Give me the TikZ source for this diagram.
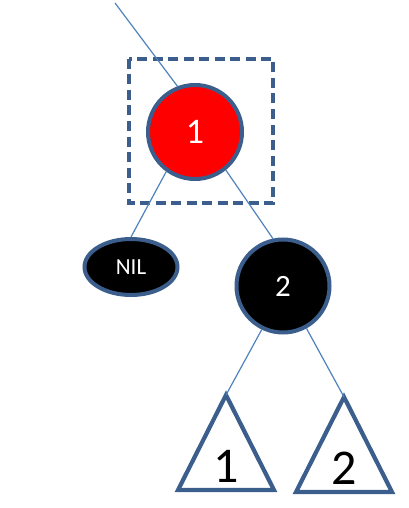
\documentclass[tikz,border=0pt]{standalone}
\usepackage{fontspec}
\setmainfont{Carlito}
\usepackage{xcolor}
\usepackage{tikz}
\usetikzlibrary{shapes.geometric}
\definecolor{edgec}{HTML}{3B5E8C}
\definecolor{linkc}{HTML}{4F81BD}
\definecolor{rednode}{HTML}{FF0000}
\tikzset{
  link/.style={linkc,line width=1.2pt},
  rbnode/.style={circle,draw=edgec,line width=4pt,inner sep=0pt,text=white},
  nilnode/.style={ellipse,draw=edgec,fill=black,line width=4pt,inner sep=0pt,text=white,
    minimum width=93pt,minimum height=56pt,font=\fontsize{23}{23}\selectfont},
  focus/.style={draw=edgec,line width=3.8pt,dash pattern=on 10pt off 5.5pt},
  tri/.style={draw=edgec,line width=4.2pt,line join=miter},
  trilab/.style={font=\fontsize{50}{50}\selectfont,inner sep=0pt}
}
\newcommand{\subtr}[4]{\coordinate (#1) at (#2,#3);
  \draw[tri] (#1) -- ++(-48,95) -- ++(96,0) -- cycle;
  \node[trilab] (#1lab) at (#2,{#3+71}) {#4};}

\begin{document}
\begin{tikzpicture}[x=1pt,y=-1pt]
\useasboundingbox (0,0) rectangle (408,508);
\draw[focus] (129,59) rectangle (273,203);
\node[rbnode,fill=rednode,minimum size=94pt,font=\fontsize{36}{36}\selectfont] (n1) at (195,132) {1};
\node[nilnode] (nil) at (131,267) {NIL};
\node[rbnode,fill=black,minimum size=93pt,font=\fontsize{31}{31}\selectfont] (n2) at (283,286) {2};
\subtr{t1}{226}{395}{1}
\subtr{t2}{344}{397}{2}
\coordinate (par) at (115,3);
% links between the nodes
\draw[link] (par) -- (n1.111);
\draw[link] (n1.234) -- (nil.north);
\draw[link] (n1.309) -- (n2.102);
\draw[link] (n2.244) -- (t1);
\draw[link] (n2.299) -- (t2);
\end{tikzpicture}
\end{document}
